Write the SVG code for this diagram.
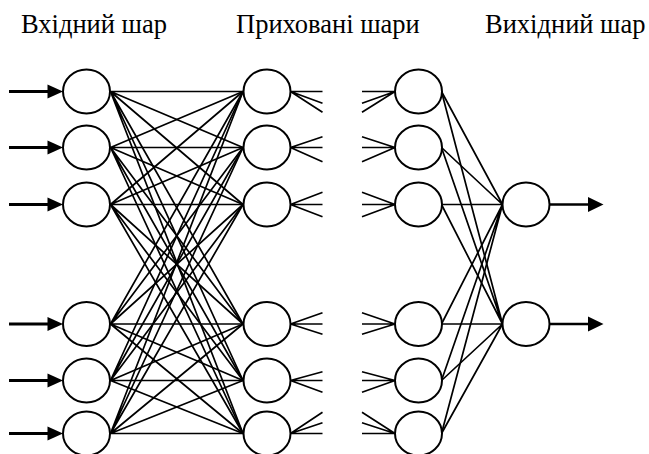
<svg xmlns="http://www.w3.org/2000/svg" width="649" height="454" viewBox="0 0 649 454">
<defs>
<style>
.n{fill:#fff;stroke:#000;stroke-width:2}
.c{stroke:#000;stroke-width:1.7;fill:none}
.a{stroke:#000;stroke-width:3;fill:none}
.h{fill:#000;stroke:none}
.t{font-family:"Liberation Serif","Times New Roman",serif;font-size:26.5px;fill:#000}
</style>
</defs>
<rect width="649" height="454" fill="#fff"/>
<g id="labels">
<text class="t" x="21" y="32.5">Вхідний шар</text>
<text class="t" x="236" y="32.5">Приховані шари</text>
<text class="t" x="485" y="32.5">Вихідний шар</text>
</g>
<g id="connectors">
<g class="a">
<line x1="9" y1="91.5" x2="49" y2="91.5"/>
<line x1="9" y1="147.5" x2="49" y2="147.5"/>
<line x1="9" y1="204.5" x2="49" y2="204.5"/>
<line x1="9" y1="324" x2="49" y2="324"/>
<line x1="9" y1="380.5" x2="49" y2="380.5"/>
<line x1="9" y1="433.5" x2="49" y2="433.5"/>
</g>
<g class="h">
<polygon points="47.5,84.5 63,91.5 47.5,98.5"/>
<polygon points="47.5,140.5 63,147.5 47.5,154.5"/>
<polygon points="47.5,197.5 63,204.5 47.5,211.5"/>
<polygon points="47.5,317 63,324 47.5,331"/>
<polygon points="47.5,373.5 63,380.5 47.5,387.5"/>
<polygon points="47.5,426.5 63,433.5 47.5,440.5"/>
</g>
<g class="c">
<path d="M110.5,91.5L243,91.5M110.5,91.5L243,147.5M110.5,91.5L243,204.5M110.5,91.5L243,324M110.5,91.5L243,380.5M110.5,91.5L243,433.5"/>
<path d="M110.5,147.5L243,91.5M110.5,147.5L243,147.5M110.5,147.5L243,204.5M110.5,147.5L243,324M110.5,147.5L243,380.5M110.5,147.5L243,433.5"/>
<path d="M110.5,204.5L243,91.5M110.5,204.5L243,147.5M110.5,204.5L243,204.5M110.5,204.5L243,324M110.5,204.5L243,380.5M110.5,204.5L243,433.5"/>
<path d="M110.5,324L243,91.5M110.5,324L243,147.5M110.5,324L243,204.5M110.5,324L243,324M110.5,324L243,380.5M110.5,324L243,433.5"/>
<path d="M110.5,380.5L243,91.5M110.5,380.5L243,147.5M110.5,380.5L243,204.5M110.5,380.5L243,324M110.5,380.5L243,380.5M110.5,380.5L243,433.5"/>
<path d="M110.5,433.5L243,91.5M110.5,433.5L243,147.5M110.5,433.5L243,204.5M110.5,433.5L243,324M110.5,433.5L243,380.5M110.5,433.5L243,433.5"/>
</g>
<g class="c">
<path d="M290.5,91.5L322.5,91.5M290.5,91.5L322.5,103.3M290.5,91.5L322.5,112.3"/>
<path d="M290.5,147.5L322.5,136.7M290.5,147.5L322.5,147.5M290.5,147.5L322.5,161.7"/>
<path d="M290.5,204.5L322.5,192.3M290.5,204.5L322.5,204.5M290.5,204.5L322.5,216.7"/>
<path d="M290.5,324L322.5,312.7M290.5,324L322.5,324M290.5,324L322.5,334.3"/>
<path d="M290.5,380.5L322.5,371.7M290.5,380.5L322.5,380.5M290.5,380.5L322.5,392.3"/>
<path d="M290.5,433.5L322.5,412.3M290.5,433.5L322.5,422.7M290.5,433.5L322.5,433.5"/>
</g>
<g class="c">
<path d="M362,91.5L395,91.5M362,103.3L395,91.5M362,112.3L395,91.5"/>
<path d="M362,136.7L395,147.5M362,147.5L395,147.5M362,161.7L395,147.5"/>
<path d="M362,192.3L395,204.5M362,204.5L395,204.5M362,216.7L395,204.5"/>
<path d="M362,312.7L395,324M362,324L395,324M362,334.3L395,324"/>
<path d="M362,371.7L395,380.5M362,380.5L395,380.5M362,392.3L395,380.5"/>
<path d="M362,412.3L395,433.5M362,422.7L395,433.5M362,433.5L395,433.5"/>
</g>
<g class="c">
<path d="M441.5,91.5L502.5,204.5M441.5,147.5L502.5,204.5M441.5,204.5L502.5,204.5M441.5,324L502.5,204.5M441.5,380.5L502.5,204.5M441.5,433.5L502.5,204.5"/>
<path d="M441.5,91.5L502.5,324M441.5,147.5L502.5,324M441.5,204.5L502.5,324M441.5,324L502.5,324M441.5,380.5L502.5,324M441.5,433.5L502.5,324"/>
</g>
<g>
<line class="c" style="stroke-width:2.4" x1="549.5" y1="204.5" x2="590" y2="204.5"/>
<line class="c" style="stroke-width:2.4" x1="549.5" y1="324" x2="590" y2="324"/>
<polygon class="h" points="588,197 603.5,204.5 588,212"/>
<polygon class="h" points="588,316.5 603.5,324 588,331.5"/>
</g>
</g>
<g id="input-1"><ellipse class="n" cx="86.5" cy="91.5" rx="23.5" ry="22"/></g>
<g id="input-2"><ellipse class="n" cx="86.5" cy="147.5" rx="23.5" ry="22"/></g>
<g id="input-3"><ellipse class="n" cx="86.5" cy="204.5" rx="23.5" ry="22"/></g>
<g id="input-4"><ellipse class="n" cx="86.5" cy="324" rx="23.5" ry="22"/></g>
<g id="input-5"><ellipse class="n" cx="86.5" cy="380.5" rx="23.5" ry="22"/></g>
<g id="input-6"><ellipse class="n" cx="86.5" cy="433.5" rx="23.5" ry="22"/></g>
<g id="hidden1-1"><ellipse class="n" cx="267" cy="91.5" rx="23.5" ry="22"/></g>
<g id="hidden1-2"><ellipse class="n" cx="267" cy="147.5" rx="23.5" ry="22"/></g>
<g id="hidden1-3"><ellipse class="n" cx="267" cy="204.5" rx="23.5" ry="22"/></g>
<g id="hidden1-4"><ellipse class="n" cx="267" cy="324" rx="23.5" ry="22"/></g>
<g id="hidden1-5"><ellipse class="n" cx="267" cy="380.5" rx="23.5" ry="22"/></g>
<g id="hidden1-6"><ellipse class="n" cx="267" cy="433.5" rx="23.5" ry="22"/></g>
<g id="hidden2-1"><ellipse class="n" cx="418.5" cy="91.5" rx="23.5" ry="22"/></g>
<g id="hidden2-2"><ellipse class="n" cx="418.5" cy="147.5" rx="23.5" ry="22"/></g>
<g id="hidden2-3"><ellipse class="n" cx="418.5" cy="204.5" rx="23.5" ry="22"/></g>
<g id="hidden2-4"><ellipse class="n" cx="418.5" cy="324" rx="23.5" ry="22"/></g>
<g id="hidden2-5"><ellipse class="n" cx="418.5" cy="380.5" rx="23.5" ry="22"/></g>
<g id="hidden2-6"><ellipse class="n" cx="418.5" cy="433.5" rx="23.5" ry="22"/></g>
<g id="output-1"><ellipse class="n" cx="526" cy="204.5" rx="23.5" ry="22"/></g>
<g id="output-2"><ellipse class="n" cx="526" cy="324" rx="23.5" ry="22"/></g>
</svg>
